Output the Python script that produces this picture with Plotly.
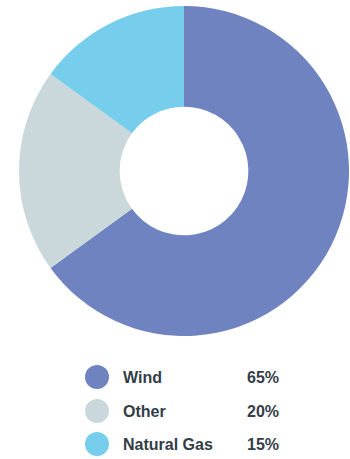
import plotly.graph_objects as go

categories = ["Wind", "Other", "Natural Gas"]
values = [65, 20, 15]
colors = ["#6f83c0", "#cad8dc", "#76cdec"]
pct_labels = ["65%", "20%", "15%"]

W, H = 350, 459
fig = go.Figure()

fig.add_trace(go.Pie(
    labels=categories, values=values, hole=0.39, sort=False,
    direction="clockwise", rotation=0,
    marker=dict(colors=colors, line=dict(width=0)),
    textinfo="none", hoverinfo="label+percent", showlegend=False,
    domain=dict(x=[19/W, 349/W], y=[(H-336)/H, (H-6)/H]),
))

row_y = [377, 411, 444]
fig.add_trace(go.Scatter(
    x=[97]*len(categories), y=row_y, mode="markers",
    marker=dict(size=24, color=colors, line=dict(width=0)),
    hoverinfo="skip", showlegend=False,
))

font = dict(family="Liberation Sans, Arial, sans-serif", size=16, color="#333d47")
ann = []
for cat, pct, y in zip(categories, pct_labels, row_y):
    ann.append(dict(x=121, y=y, xref="x", yref="y", text=f"<b>{cat}</b>",
                    showarrow=False, xanchor="left", yanchor="middle", font=font))
    ann.append(dict(x=281, y=y, xref="x", yref="y", text=f"<b>{pct}</b>",
                    showarrow=False, xanchor="right", yanchor="middle", font=font))

fig.update_layout(
    width=W, height=H, margin=dict(l=0, r=0, t=0, b=0),
    paper_bgcolor="white", plot_bgcolor="rgba(0,0,0,0)",
    xaxis=dict(range=[0, W], visible=False, fixedrange=True, domain=[0, 1]),
    yaxis=dict(range=[H, 0], visible=False, fixedrange=True, domain=[0, 1]),
    annotations=ann, showlegend=False,
)

fig.write_html("out.html", config={"displayModeBar": False},
               post_script="document.body.style.margin='0';document.body.style.overflow='hidden';")
